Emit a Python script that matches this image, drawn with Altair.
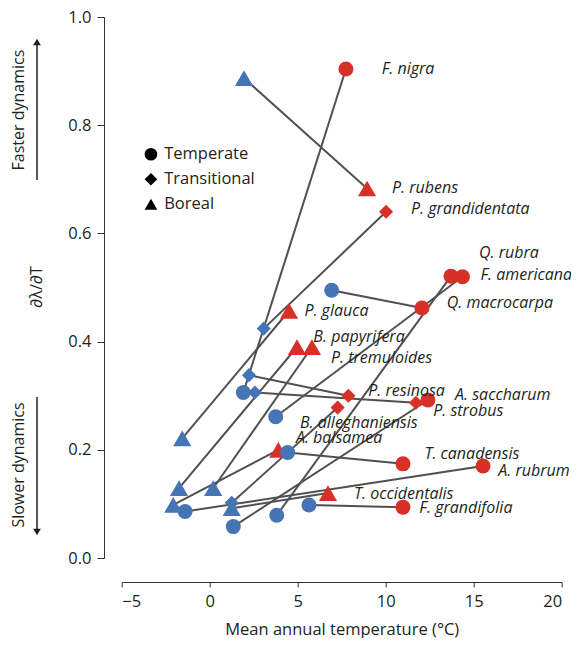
import altair as alt
import pandas as pd

# ---------------- data ----------------
species = ["F. nigra", "P. rubens", "P. grandidentata", "Q. rubra", "F. americana",
           "Q. macrocarpa", "P. glauca", "B. papyrifera", "P. tremuloides", "P. resinosa",
           "A. saccharum", "P. strobus", "B. alleghaniensis", "A. balsamea",
           "T. canadensis", "A. rubrum", "T. occidentalis", "F. grandifolia"]
category = ["Temperate", "Boreal", "Transitional", "Temperate", "Temperate",
            "Temperate", "Boreal", "Boreal", "Boreal", "Transitional",
            "Temperate", "Transitional", "Transitional", "Boreal",
            "Temperate", "Temperate", "Boreal", "Temperate"]
# red markers (labelled end)
temp_red = [7.74, 8.94, 10.02, 13.71, 14.36, 12.06, 4.51, 5.81, 4.96, 7.88,
            12.40, 11.72, 7.27, 3.90, 10.98, 15.53, 6.72, 10.98]
rate_red = [0.904, 0.683, 0.640, 0.521, 0.520, 0.462, 0.457, 0.390, 0.390, 0.300,
            0.292, 0.287, 0.278, 0.200, 0.174, 0.170, 0.120, 0.094]
# blue markers (other end)
temp_blue = [1.91, 1.95, 3.07, 3.81, 3.75, 6.93, -1.56, 0.20, -1.74, 2.23,
             1.34, 2.57, 1.25, -2.07, 4.43, -1.40, 1.25, 5.64]
rate_blue = [0.306, 0.887, 0.424, 0.079, 0.261, 0.495, 0.221, 0.129, 0.129, 0.338,
             0.058, 0.306, 0.102, 0.098, 0.195, 0.086, 0.092, 0.098]
# where each species name sits
label_temp = [9.77, 10.36, 11.44, 15.30, 15.38, 13.47, 5.38, 5.89, 6.89, 9.01,
              13.94, 12.70, 5.13, 4.90, 12.20, 16.40, 8.20, 11.91]
label_rate = [0.904, 0.684, 0.645, 0.564, 0.523, 0.471, 0.457, 0.409, 0.370, 0.309,
              0.301, 0.272, 0.250, 0.222, 0.192, 0.160, 0.118, 0.092]

x_ticks = [-5, 0, 5, 10, 15, 20]
y_ticks = [0.0, 0.2, 0.4, 0.6, 0.8, 1.0]
cat_order = ["Temperate", "Transitional", "Boreal"]

# ---------------- tables ----------------
segs = pd.DataFrame({"species": species, "category": category,
                     "x1": temp_blue, "y1": rate_blue, "x2": temp_red, "y2": rate_red,
                     "lx": label_temp, "ly": label_rate})
pts = pd.concat([
    pd.DataFrame({"species": species, "category": category, "end": "red",
                  "x": temp_red, "y": rate_red}),
    pd.DataFrame({"species": species, "category": category, "end": "blue",
                  "x": temp_blue, "y": rate_blue}),
], ignore_index=True)

FONT = "Open Sans"
INK = "#231f20"
W, H = 440, 541
PL, PT = 113.7, 9
TOTAL_W, TOTAL_H = 563, 630

xscale = alt.Scale(domain=[-5, 20], nice=False, zero=False)
yscale = alt.Scale(domain=[0, 1], nice=False)

xax = alt.Axis(values=x_ticks, format="d", title="Mean annual temperature (°C)",
               offset=24, tickSize=5, labelPadding=6, titlePadding=12)
yax = alt.Axis(values=y_ticks, format=".1f", title=None, offset=17.7,
               tickSize=7, labelPadding=6)

lines = alt.Chart(segs).mark_rule(color="#505050", strokeWidth=2).encode(
    x=alt.X("x1:Q", scale=xscale, axis=xax),
    y=alt.Y("y1:Q", scale=yscale, axis=yax),
    x2="x2:Q", y2="y2:Q",
)

marker_size = (alt.when(alt.datum.category == "Boreal").then(alt.value(330))
               .when(alt.datum.category == "Transitional").then(alt.value(200))
               .otherwise(alt.value(225)))

points = alt.Chart(pts).mark_point(filled=True, opacity=1, strokeWidth=0).encode(
    x=alt.X("x:Q", scale=xscale),
    y=alt.Y("y:Q", scale=yscale),
    color=alt.Color("end:N", scale=alt.Scale(domain=["red", "blue"],
                                             range=["#d73027", "#4575b4"]), legend=None),
    shape=alt.Shape("category:N",
                    scale=alt.Scale(domain=cat_order,
                                    range=["circle", "diamond", "triangle-up"]),
                    legend=alt.Legend(title=None, orient="none", legendX=21, legendY=129,
                                      symbolFillColor="black", symbolStrokeColor="black",
                                      symbolStrokeWidth=0, symbolSize=160,
                                      labelFont=FONT, labelFontSize=16.5, labelColor=INK,
                                      labelOffset=5, rowPadding=8, padding=0)),
    size=marker_size,
)

labels = alt.Chart(segs).mark_text(align="left", baseline="middle", font=FONT,
                                   fontStyle="italic", fontSize=16, color=INK).encode(
    x=alt.X("lx:Q", scale=xscale), y=alt.Y("ly:Q", scale=yscale), text="species:N")

ann = pd.DataFrame({"t": ["Faster dynamics", "Slower dynamics", "∂λ/∂T"],
                    "py": [93, 448, 270], "px": [-103.2, -103.2, -84.7]})
ann_text = alt.Chart(ann).mark_text(angle=270, font=FONT, fontSize=16, color=INK,
                                    baseline="middle", align="center").encode(
    x=alt.X("px:Q", scale=None), y=alt.Y("py:Q", scale=None), text="t:N")

arr = pd.DataFrame({"y0": [163, 380], "y1": [25, 515]})
arrow_lines = alt.Chart(arr).mark_rule(color=INK, strokeWidth=1.5).encode(
    x=alt.value(-84.7), y=alt.Y("y0:Q", scale=None), y2="y1:Q")
heads = pd.DataFrame({"hy": [25, 515], "dir": ["up", "down"]})
arrow_heads = alt.Chart(heads).mark_point(filled=True, color=INK, size=60, opacity=1).encode(
    x=alt.value(-84.7), y=alt.Y("hy:Q", scale=None),
    shape=alt.Shape("dir:N", scale=alt.Scale(domain=["up", "down"],
                                            range=["triangle-up", "triangle-down"]),
                    legend=None))

chart = alt.layer(lines, points, labels, ann_text, arrow_lines, arrow_heads).resolve_scale(
    shape="independent"
).properties(
    width=W, height=H,
    autosize=alt.AutoSizeParams(type="none"),
    padding={"left": PL, "top": PT, "right": TOTAL_W - PL - W, "bottom": TOTAL_H - PT - H},
).configure_axis(
    labelFont=FONT, titleFont=FONT, labelFontSize=16.5, titleFontSize=16.5,
    labelColor=INK, titleColor=INK, titleFontWeight="normal",
    domainColor="#333", tickColor="#333", grid=False,
).configure_view(stroke=None)

chart.save("out.html", embed_options={"renderer": "svg", "actions": False})
